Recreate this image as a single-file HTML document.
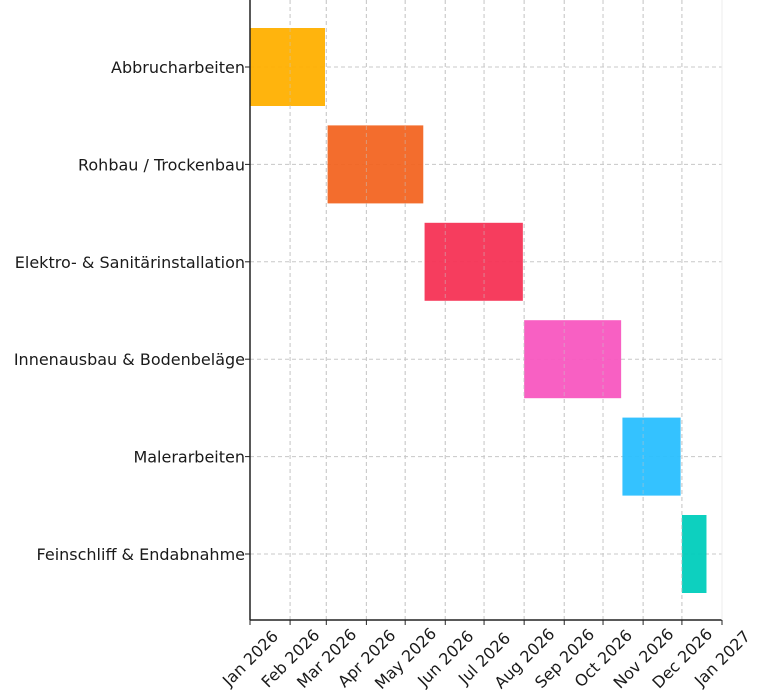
<!DOCTYPE html>
<html><head><meta charset="utf-8">
<style>
html,body{margin:0;padding:0;background:#fff;}
svg{display:block;font-family:"DejaVu Sans","Liberation Sans",sans-serif;}
</style></head>
<body>
<svg id="chart" width="768" height="690" viewBox="0 0 768 690"></svg>
<script>
const tasks = ["Abbrucharbeiten","Rohbau / Trockenbau","Elektro- & Sanitärinstallation","Innenausbau & Bodenbeläge","Malerarbeiten","Feinschliff & Endabnahme"];
const startDates = ["2026-01-01","2026-03-02","2026-05-16","2026-08-01","2026-10-16","2026-12-01"];
const endDates = ["2026-02-28","2026-05-15","2026-07-31","2026-10-15","2026-11-30","2026-12-20"];
const colors = ["#FFB000","#F26522","#F53355","#F857C0","#29BFFF","#00CDBC"];
const tickLabels = ["Jan 2026","Feb 2026","Mar 2026","Apr 2026","May 2026","Jun 2026","Jul 2026","Aug 2026","Sep 2026","Oct 2026","Nov 2026","Dec 2026","Jan 2027"];
const tickDates = ["2026-01-01","2026-02-01","2026-03-01","2026-04-01","2026-05-01","2026-06-01","2026-07-01","2026-08-01","2026-09-01","2026-10-01","2026-11-01","2026-12-01","2027-01-01"];

const NS="http://www.w3.org/2000/svg";
const svg=document.getElementById('chart');
const L=250,R=722,T=0,B=620;
const t0=Date.parse("2026-01-01"),t1=Date.parse("2027-01-01");
function x(d){return L+(Date.parse(d)-t0)/(t1-t0)*(R-L);}
const band=97.4;
function yc(i){return 67+band*i;}
function el(tag,attrs,parent){const e=document.createElementNS(NS,tag);for(const k in attrs)e.setAttribute(k,attrs[k]);(parent||svg).appendChild(e);return e;}

const grid=el('g',{});


tickDates.forEach(d=>{el('line',{x1:x(d),x2:x(d),y1:T,y2:B,stroke:'#c8c8c8','stroke-dasharray':'4,3','stroke-width':1},grid);});
tasks.forEach((t,i)=>{el('line',{x1:L,x2:R,y1:yc(i),y2:yc(i),stroke:'#c8c8c8','stroke-dasharray':'4,3','stroke-width':1},grid);});

tasks.forEach((t,i)=>{
  const r=el('rect',{x:x(startDates[i]),y:yc(i)-39,width:x(endDates[i])-x(startDates[i]),height:78,fill:colors[i],opacity:0.95});
  
  
});
tickDates.forEach(d=>{el('line',{x1:x(d),x2:x(d),y1:T,y2:B,stroke:'#c8c8c8','stroke-dasharray':'4,3','stroke-width':1,opacity:0.5});});

const ax=el('g',{});


el('line',{x1:L,x2:L,y1:T,y2:B,stroke:'#222','stroke-width':1.5},ax);
el('line',{x1:L,x2:R,y1:B,y2:B,stroke:'#222','stroke-width':1.5},ax);
el('line',{x1:R,x2:R,y1:T,y2:B,stroke:'#eee','stroke-width':1},ax);

tasks.forEach((t,i)=>{
  el('line',{x1:L-5,x2:L,y1:yc(i),y2:yc(i),stroke:'#222','stroke-width':1});
  const tx=el('text',{x:L-5,y:yc(i)+6,'text-anchor':'end','font-size':16,fill:'#1a1a1a'});
  tx.textContent=t;
  
  
});
tickDates.forEach((d,i)=>{
  const xx=x(d);
  el('line',{x1:xx,x2:xx,y1:B,y2:B+5,stroke:'#222','stroke-width':1});
  const cy=B+38;
  const tx=el('text',{x:xx,y:cy+6,'text-anchor':'middle','font-size':16,fill:'#1a1a1a',transform:`rotate(-45 ${xx} ${cy})`});
  tx.textContent=tickLabels[i];
  
  
});
</script>
</body></html>
